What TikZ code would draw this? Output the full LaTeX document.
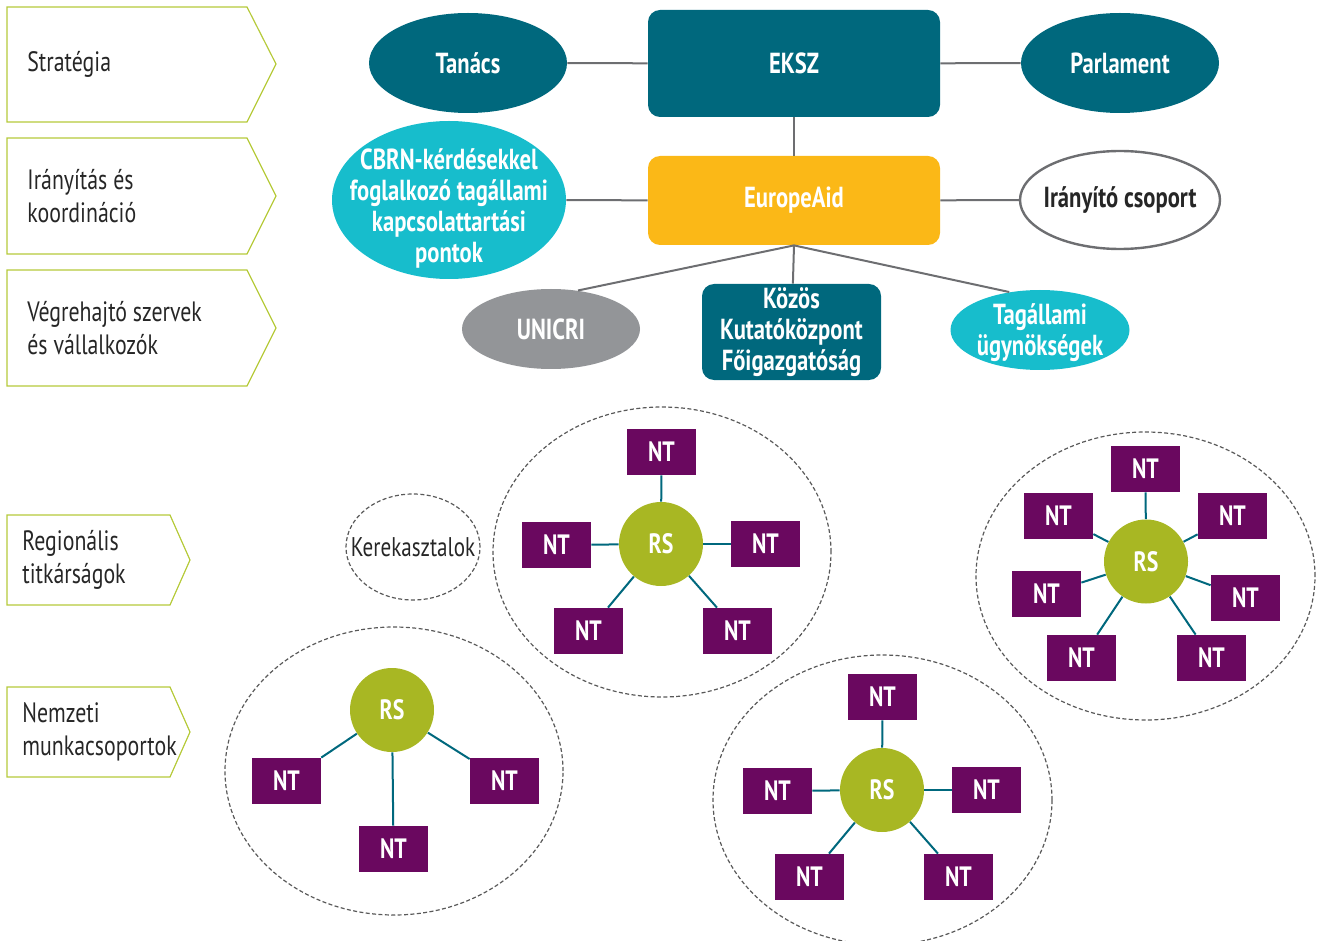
\documentclass[tikz,border=0pt]{standalone}
\usepackage{fontspec}
\setmainfont{PT Sans}[FakeStretch=0.78]
\usetikzlibrary{shapes.geometric}

\definecolor{ekszteal}{HTML}{00687D}
\definecolor{cbrncyan}{HTML}{17BDCC}
\definecolor{aidamber}{HTML}{FBB817}
\definecolor{unigray}{HTML}{939598}
\definecolor{rsgreen}{HTML}{A8B723}
\definecolor{ntpurple}{HTML}{6A085F}
\definecolor{stageline}{HTML}{B6CA3B}
\definecolor{linkgray}{HTML}{6D6E71}

\begin{document}
\begin{tikzpicture}[x=0.5pt,y=-0.5pt,
  stage/.style={draw=stageline,line width=0.6pt},
  stagetext/.style={anchor=west,align=left,inner sep=0pt,text=black!85,
    font=\fontsize{14}{16.5}\selectfont},
  ell/.style={ellipse,inner sep=0pt},
  rbox/.style={rounded corners=6pt,inner sep=0pt},
  wlab/.style={text=white,align=center,font=\bfseries\fontsize{14.5}{15.5}\selectfont},
  link/.style={draw=linkgray,line width=1pt},
  ring/.style={ellipse,draw=black!65,line width=0.6pt,dash pattern=on 2pt off 1.2pt,inner sep=0pt},
  rs/.style={circle,fill=rsgreen,minimum size=42pt,inner sep=0pt,text=white,
    font=\bfseries\fontsize{14}{16}\selectfont},
  nt/.style={fill=ntpurple,minimum width=34.5pt,minimum height=23pt,inner sep=0pt,text=white,
    font=\bfseries\fontsize{14}{16}\selectfont},
  spoke/.style={draw=ekszteal,line width=1pt}]
\useasboundingbox (0,0) rectangle (1323,941);

% levels on the left
\draw[stage] (7,7) -- (247,7) -- (276,64) -- (247,122) -- (7,122) -- cycle;
\node[stagetext] (strategia) at (27,64) {Stratégia};
\draw[stage] (7,138) -- (247,138) -- (276,196) -- (247,254) -- (7,254) -- cycle;
\node[stagetext] (iranyitas) at (27,196) {Irányítás és\\koordináció};
\draw[stage] (7,270) -- (247,270) -- (276,328) -- (247,386) -- (7,386) -- cycle;
\node[stagetext] (vegrehajto) at (27,328) {Végrehajtó szervek\\és vállalkozók};
\draw[stage] (7,515) -- (170,515) -- (190,560) -- (170,605) -- (7,605) -- cycle;
\node[stagetext] (regionalis) at (22,560) {Regionális\\titkárságok};
\draw[stage] (7,687) -- (170,687) -- (190,732) -- (170,777) -- (7,777) -- cycle;
\node[stagetext] (nemzeti) at (22,732) {Nemzeti\\munkacsoportok};

% top structure
\node[ell,fill=ekszteal,minimum width=99pt,minimum height=50pt,
  label={[wlab]center:Tanács}] (tanacs) at (468,63) {};
\node[rbox,fill=ekszteal,minimum width=146pt,minimum height=53.5pt,wlab] (eksz) at (794,63.5) {EKSZ};
\node[ell,fill=ekszteal,minimum width=99pt,minimum height=50pt,
  label={[wlab]center:Parlament}] (parlament) at (1120,63) {};
\node[ell,fill=cbrncyan,minimum width=117pt,minimum height=79pt,
  label={[wlab,yshift=-4pt]center:{CBRN-kérdésekkel\\foglalkozó tagállami\\kapcsolattartási\\pontok}}] (cbrn) at (449,200) {};
\node[rbox,fill=aidamber,minimum width=146pt,minimum height=44.5pt,wlab] (aid) at (794,200.5) {EuropeAid};
\node[ell,fill=white,draw=linkgray,line width=1.2pt,minimum width=100pt,minimum height=49pt,
  label={[wlab,text=black!85]center:Irányító csoport}] (iranyito) at (1120,200) {};
\node[ell,fill=unigray,minimum width=89pt,minimum height=40pt,
  label={[wlab]center:UNICRI}] (unicri) at (551,329) {};
\node[rbox,fill=ekszteal,minimum width=89.5pt,minimum height=48pt,wlab] (kozos) at (791.5,332) {Közös\\Kutatóközpont\\Főigazgatóság};
\node[ell,fill=cbrncyan,minimum width=89.5pt,minimum height=40pt,
  label={[wlab,yshift=-1.5pt]center:{Tagállami\\ügynökségek}}] (tagallami) at (1040,330) {};

\draw[link] (tanacs) -- (eksz);
\draw[link] (eksz) -- (parlament);
\draw[link] (eksz) -- (aid);
\draw[link] (cbrn) -- (aid);
\draw[link] (aid) -- (iranyito);
\draw[link] (aid.south) -- (unicri.55);
\draw[link] (aid.south) -- (kozos);
\draw[link] (aid.south) -- (tagallami.129);

% round tables
\node[ring,minimum width=67pt,minimum height=53pt,
  label={[text=black!85,font=\fontsize{13.5}{16}\selectfont]center:Kerekasztalok}] (kerek) at (413,547) {};

\node[ring,minimum width=169pt,minimum height=145pt] (ringa) at (662,552) {};
\node[rs] (rsa) at (661,544) {RS};
\foreach \x/\y [count=\i] in {661.5/452,556.5/545,765.5/544,588.5/631,737.5/631}
  {\node[nt] (nta\i) at (\x,\y) {NT};
   \draw[spoke] (rsa) -- (nta\i);}

\node[ring,minimum width=169.5pt,minimum height=144pt] (ringb) at (1145.5,576) {};
\node[rs] (rsb) at (1146,561.5) {RS};
\foreach \x/\y [count=\i] in {1145.5/469,1058.5/516,1232.5/516,1046.5/594,1245.5/598,1081.5/658,1211.5/658}
  {\node[nt] (ntb\i) at (\x,\y) {NT};
   \draw[spoke] (rsb) -- (ntb\i);}

\node[ring,minimum width=169pt,minimum height=144pt] (ringc) at (394,771) {};
\node[rs] (rsc) at (392,710) {RS};
\foreach \x/\y [count=\i] in {286.5/781,504.5/781,393.5/849}
  {\node[nt] (ntc\i) at (\x,\y) {NT};
   \draw[spoke] (rsc) -- (ntc\i);}

\node[ring,minimum width=169.5pt,minimum height=145pt] (ringd) at (882.5,800) {};
\node[rs] (rsd) at (882,790) {RS};
\foreach \x/\y [count=\i] in {882.5/697,777.5/791,986.5/790,809.5/877,958.5/877}
  {\node[nt] (ntd\i) at (\x,\y) {NT};
   \draw[spoke] (rsd) -- (ntd\i);}
\end{tikzpicture}
\end{document}
